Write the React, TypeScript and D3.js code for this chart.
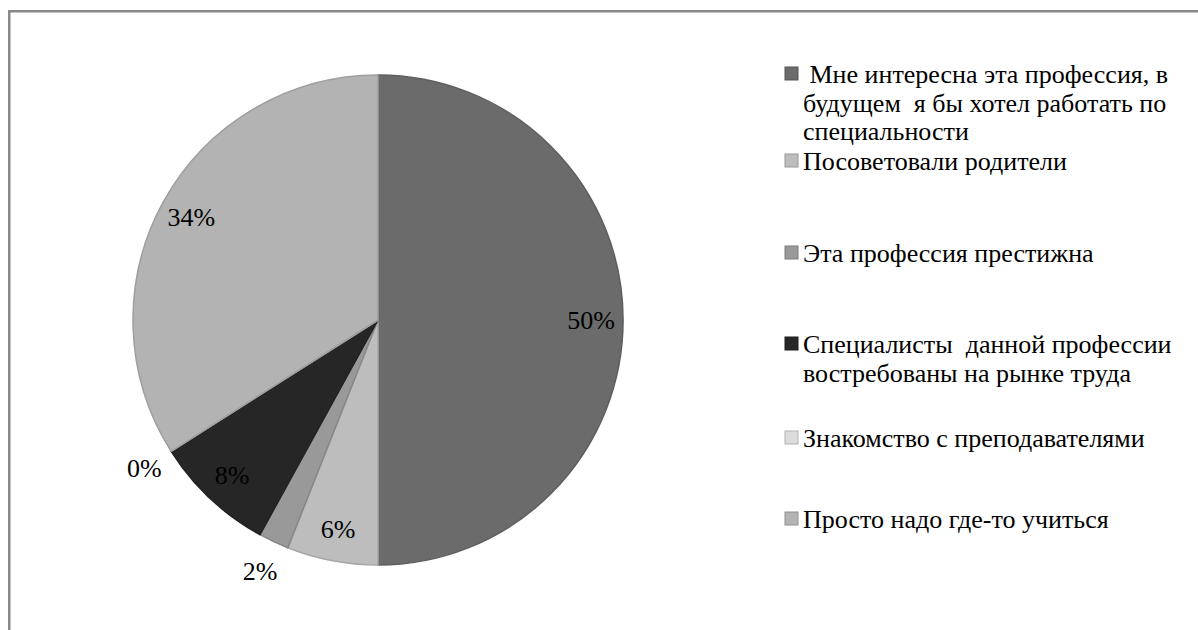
import * as d3 from 'd3';

// categories as shown in the legend (line breaks as in the picture)
const categories = [
  ' Мне интересна эта профессия, в\nбудущем  я бы хотел работать по\nспециальности',
  'Посоветовали родители',
  'Эта профессия престижна',
  'Специалисты  данной профессии\nвостребованы на рынке труда',
  'Знакомство с преподавателями',
  'Просто надо где-то учиться',
];
const values = [50, 6, 2, 8, 0, 34];
const labels = ['50%', '6%', '2%', '8%', '0%', '34%'];
const colors = ['#6b6b6b', '#bdbdbd', '#999999', '#262626', '#dcdcdc', '#b3b3b3'];

const W = 1198;
const H = 630;
const cx = 378;
const cy = 320;
const r = 245;
const font = "'Liberation Serif', Tinos, 'Times New Roman', 'DejaVu Serif', serif";

// baseline of the first line of each legend entry
const legendTop = [83, 170, 262, 353, 447, 528];

export default function App() {
  const pie = d3
    .pie<number>()
    .sort(null)
    .startAngle(0)
    .endAngle(2 * Math.PI)
    .value((d) => d);
  const arcs = pie(values);
  const arc = d3.arc<d3.PieArcDatum<number>>().innerRadius(0).outerRadius(r);
  const inLabel = d3.arc<d3.PieArcDatum<number>>().innerRadius(r * 0.87).outerRadius(r * 0.87);
  const outLabel = d3.arc<d3.PieArcDatum<number>>().innerRadius(r * 1.13).outerRadius(r * 1.13);

  return (
    <svg width={W} height={H} style={{ position: 'absolute', left: 0, top: 0, fontFamily: font }}>
      <rect x={0} y={0} width={W} height={H} fill="#fff" />
      <rect x={9.25} y={11.25} width={W + 20} height={H + 20} fill="none" stroke="#898989" strokeWidth={2.5} />

      <g transform={`translate(${cx}, ${cy})`}>
        {arcs.map((a, i) => (
          <path
            key={i}
            d={arc(a)!}
            fill={colors[i]}
            stroke={d3.color(colors[i])!.darker(0.35).toString()}
            strokeWidth={1.5}
          />
        ))}
        {arcs.map((a, i) => {
          const [lx, ly] = values[i] >= 5 ? inLabel.centroid(a) : outLabel.centroid(a);
          return (
            <text
              key={i}
              x={lx}
              y={ly}
              dy="0.35em"
              textAnchor="middle"
              style={{ fontFamily: font, fontSize: 26 }}
              fill="#000"
            >
              {labels[i]}
            </text>
          );
        })}
      </g>

      {/* Legend */}
      {categories.map((c, i) => {
        const y0 = legendTop[i];
        return (
          <g key={i}>
            <rect
              x={785}
              y={y0 - 16}
              width={13}
              height={13}
              fill={colors[i]}
              stroke={d3.color(colors[i])!.darker(0.6).toString()}
              strokeWidth={1}
            />
            <text fill="#000" style={{ whiteSpace: 'pre', fontFamily: font, fontSize: 26 }}>
              {c.split('\n').map((line, j) => (
                <tspan key={j} x={803} y={y0 + j * 28.5}>
                  {line}
                </tspan>
              ))}
            </text>
          </g>
        );
      })}
    </svg>
  );
}
